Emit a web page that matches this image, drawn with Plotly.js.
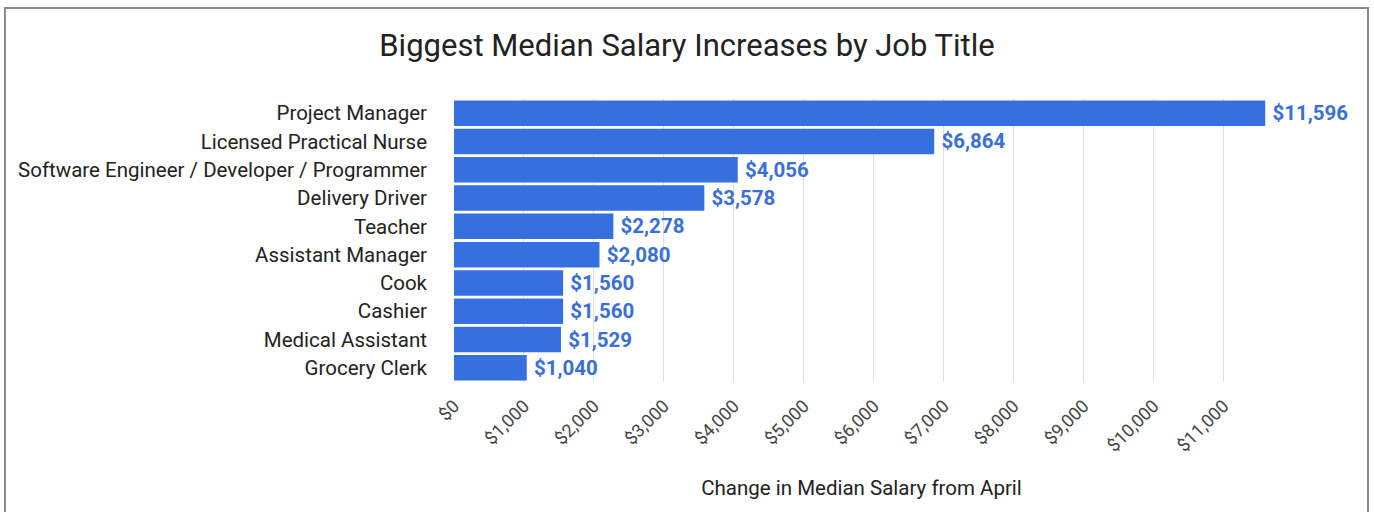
<!DOCTYPE html>
<html>
<head>
<meta charset="utf-8">
<script src="https://cdn.plot.ly/plotly-3.0.1.min.js"></script>
<style>
  html, body { margin: 0; padding: 0; background: #fff; }
  #frame { position: absolute; left: 4px; top: 7px; width: 1365px; height: 520px; border: 2px solid #8a8a8a; box-sizing: border-box; }
  #chart { position: absolute; left: 0; top: 0; width: 1374px; height: 512px; }
</style>
</head>
<body>
<div id="frame"></div>
<div id="chart"></div>
<script>
const jobTitles = [
  "Project Manager",
  "Licensed Practical Nurse",
  "Software Engineer / Developer / Programmer",
  "Delivery Driver",
  "Teacher",
  "Assistant Manager",
  "Cook",
  "Cashier",
  "Medical Assistant",
  "Grocery Clerk"
];
const salaryIncrease = [11596, 6864, 4056, 3578, 2278, 2080, 1560, 1560, 1529, 1040];
const tickValues = [0, 1000, 2000, 3000, 4000, 5000, 6000, 7000, 8000, 9000, 10000, 11000];
const tickLabels = ["$0", "$1,000", "$2,000", "$3,000", "$4,000", "$5,000", "$6,000", "$7,000", "$8,000", "$9,000", "$10,000", "$11,000"];

const barColor = "#3670DE";

const trace = {
  type: "bar",
  orientation: "h",
  x: salaryIncrease,
  y: jobTitles,
  marker: { color: barColor, line: { width: 0 } },
  text: salaryIncrease.map(v => "\u2009$" + v.toLocaleString("en-US")),
  textposition: "outside",
  cliponaxis: false,
  textfont: { family: "Roboto", size: 20.5, color: "#3A6FD8", weight: "bold" },
  hoverinfo: "none"
};

const layout = {
  width: 1374,
  height: 512,
  paper_bgcolor: "rgba(0,0,0,0)",
  plot_bgcolor: "rgba(0,0,0,0)",
  margin: { l: 454, r: 105, t: 99, b: 130, pad: 0 },
  title: {
    text: "Biggest Median Salary Increases by Job Title",
    font: { family: "Roboto", size: 31, color: "#222" },
    x: 0.5, xref: "container", xanchor: "center",
    y: 1, yref: "container", yanchor: "top", pad: { t: 34 }
  },
  bargap: 0.1,
  showlegend: false,
  xaxis: {
    range: [0, 11650],
    tickvals: tickValues,
    ticktext: tickLabels,
    tickangle: -45,
    tickfont: { family: "Roboto", size: 18, color: "#444" },
    ticklabelstandoff: 9,
    showgrid: true,
    gridcolor: "#e0e0e0",
    gridwidth: 1,
    zeroline: false,
    showline: false,
    ticks: "",
    fixedrange: true,
    title: {
      text: "Change in Median Salary from April",
      font: { family: "Roboto", size: 20.5, color: "#222" },
      standoff: 26
    }
  },
  yaxis: {
    autorange: "reversed",
    tickfont: { family: "Roboto", size: 20.5, color: "#222" },
    ticklabelstandoff: 26,
    ticks: "",
    showline: false,
    showgrid: false,
    fixedrange: true
  }
};

Plotly.newPlot("chart", [trace], layout, { displayModeBar: false, staticPlot: true });
</script>
</body>
</html>
